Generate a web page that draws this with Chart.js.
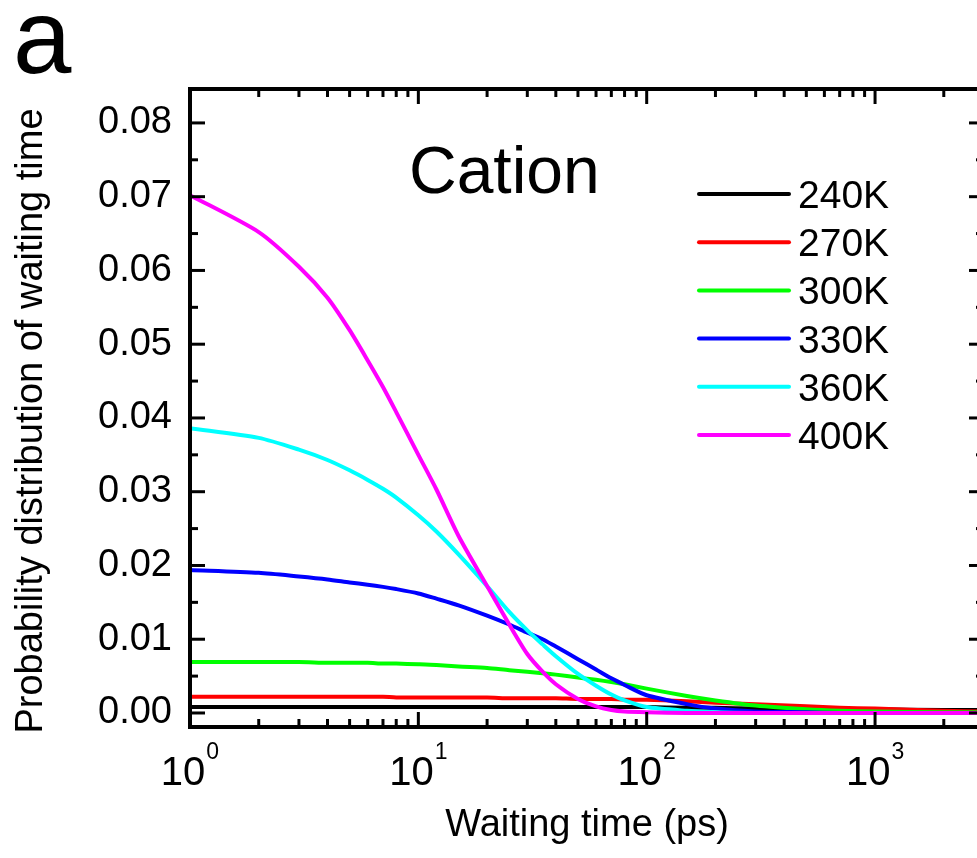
<!DOCTYPE html>
<html><head><meta charset="utf-8">
<script src="https://cdn.jsdelivr.net/npm/chart.js@4"></script>
<style>html,body{margin:0;padding:0;background:#fff;overflow:hidden}#wrap{width:1000px;height:858px}</style>
</head><body><div id="wrap"><canvas id="c" width="1000" height="858"></canvas></div>
<script>
// ---- data ----
const waitingTimes = [1,2,3,4,5,6,7,8,10,12,15,20,25,30,35,40,50,60,70,80,100,150,200,300,500,700,1000,2000,3000];
const seriesLabels = ['240K','270K','300K','330K','360K','400K'];
const seriesColors = ['#000000','#ff0000','#00ff00','#0000ff','#00ffff','#ff00ff'];
const series240K = [0.0008,0.0008,0.0008,0.0008,0.0008,0.0008,0.0008,0.0008,0.0008,0.0008,0.0008,0.0008,0.0008,0.0008,0.0008,0.0008,0.0008,0.0008,0.0008,0.0008,0.0008,0.0007,0.0007,0.0006,0.0006,0.0005,0.0005,0.0004,0.0004];
const series270K = [0.0022,0.0022,0.0022,0.0022,0.0022,0.0022,0.0022,0.0021,0.0021,0.0021,0.0021,0.0021,0.0020,0.0020,0.0020,0.0020,0.0019,0.0019,0.0019,0.0018,0.0018,0.0016,0.0014,0.0012,0.0009,0.0007,0.0006,0.0003,0.0002];
const series300K = [0.0069,0.0069,0.0069,0.0068,0.0068,0.0068,0.0067,0.0067,0.0066,0.0065,0.0063,0.0061,0.0058,0.0056,0.0054,0.0052,0.0048,0.0045,0.0042,0.0039,0.0033,0.0023,0.0017,0.0010,0.0005,0.0003,0.0002,0.0001,0.0001];
const series330K = [0.0194,0.0190,0.0185,0.0181,0.0177,0.0174,0.0171,0.0168,0.0162,0.0155,0.0146,0.0132,0.0120,0.0109,0.0100,0.0090,0.0073,0.0059,0.0047,0.0038,0.0024,0.0012,0.0006,0.0002,0.0001,0.0000,0.0000,0.0000,0.0000];
const series360K = [0.0386,0.0373,0.0357,0.0343,0.0329,0.0316,0.0304,0.0292,0.0268,0.0246,0.0215,0.0172,0.0137,0.0112,0.0093,0.0077,0.0053,0.0037,0.0025,0.0017,0.0008,0.0003,0.0001,0.0000,0.0000,0.0000,0.0000,0.0000,0.0000];
const series400K = [0.0702,0.0652,0.0605,0.0563,0.0519,0.0478,0.0442,0.0408,0.0350,0.0303,0.0240,0.0172,0.0120,0.0080,0.0056,0.0039,0.0019,0.0009,0.0004,0.0002,0.0001,0.0000,0.0000,0.0000,0.0000,0.0000,0.0000,0.0000,0.0000];
const allSeries = [series240K,series270K,series300K,series330K,series360K,series400K];
const yTickValues = [0,0.01,0.02,0.03,0.04,0.05,0.06,0.07,0.08];
const xTickExponents = [0,1,2,3];
const xAxisTitle = 'Waiting time (ps)';
const yAxisTitle = 'Probability distribution of waiting time';
const panelLabel = 'a';
const panelTitle = 'Cation';

const FONT = "'Liberation Sans', Arial, Helvetica, sans-serif";

const decor = {
  id: 'decor',
  afterDatasetsDraw(chart) {
    const {ctx, chartArea: a, scales: {x, y}} = chart;
    ctx.save();
    // legend
    chart.data.datasets.forEach((ds, i) => {
      const ly = 194 + i * 48.2;
      ctx.strokeStyle = ds.borderColor;
      ctx.lineWidth = 4;
      ctx.lineCap = 'round';
      ctx.beginPath(); ctx.moveTo(699, ly); ctx.lineTo(789, ly); ctx.stroke();
      ctx.fillStyle = '#000';
      ctx.font = '39px ' + FONT;
      ctx.textAlign = 'left';
      ctx.textBaseline = 'alphabetic';
      ctx.fillText(ds.label, 798, ly + 14);
    });
    // frame
    ctx.lineCap = 'butt';
    ctx.strokeStyle = '#000';
    ctx.lineWidth = 4;
    ctx.strokeRect(a.left, a.top, a.right - a.left, a.bottom - a.top);
    // ticks
    ctx.lineWidth = 3;
    const tick = (x1, y1, x2, y2) => { ctx.beginPath(); ctx.moveTo(x1, y1); ctx.lineTo(x2, y2); ctx.stroke(); };
    const MAJ = 15, MIN = 8;
    for (let k = 0; k <= 4; k++) {
      for (let m = 1; m <= 9; m++) {
        const v = m * Math.pow(10, k);
        if (v < x.min || v > x.max) continue;
        const px = x.getPixelForValue(v);
        const L = m === 1 ? MAJ : MIN;
        tick(px, a.bottom, px, a.bottom - L);
        tick(px, a.top, px, a.top + L);
      }
    }
    for (let i = 0; i <= 16; i++) {
      const v = i * 0.005;
      const py = y.getPixelForValue(v);
      const L = i % 2 === 0 ? MAJ : MIN;
      tick(a.left, py, a.left + L, py);
      tick(a.right, py, a.right - L, py);
    }
    // x tick labels with superscripts
    ctx.fillStyle = '#000';
    ctx.textBaseline = 'alphabetic';
    ctx.textAlign = 'left';
    xTickExponents.forEach(e => {
      const px = x.getPixelForValue(Math.pow(10, e));
      ctx.font = '40px ' + FONT;
      const w1 = ctx.measureText('10').width;
      ctx.font = '23px ' + FONT;
      const w2 = ctx.measureText(String(e)).width;
      const start = px - (w1 + w2 + 1) / 2;
      ctx.font = '40px ' + FONT;
      ctx.fillText('10', start, 785);
      ctx.font = '23px ' + FONT;
      ctx.fillText(String(e), start + w1 + 1, 759);
    });
    // y axis title
    ctx.save();
    ctx.translate(32, 421);
    ctx.rotate(-Math.PI / 2);
    ctx.font = '38px ' + FONT;
    ctx.textAlign = 'center';
    ctx.textBaseline = 'middle';
    ctx.fillText(yAxisTitle, 0, 0);
    ctx.restore();
    // panel label and title
    ctx.textAlign = 'left';
    ctx.textBaseline = 'alphabetic';
    ctx.font = '105px ' + FONT;
    ctx.fillText(panelLabel, 13, 73);
    ctx.font = '66px ' + FONT;
    ctx.fillText(panelTitle, 409, 193);
    ctx.restore();
  }
};

const datasets = seriesLabels.map((lab, i) => ({
  label: lab,
  data: waitingTimes.map((t, j) => ({x: t, y: allSeries[i][j]})),
  borderColor: seriesColors[i],
  backgroundColor: seriesColors[i],
  borderWidth: 4,
  pointRadius: 0,
  tension: 0.25,
  fill: false,
  order: seriesLabels.length - i
}));

new Chart(document.getElementById('c'), {
  type: 'line',
  data: {datasets},
  options: {
    responsive: false,
    animation: false,
    layout: {padding: {top: 89, right: 16, left: 0, bottom: 0}},
    plugins: {legend: {display: false}, tooltip: {enabled: false}},
    scales: {
      x: {
        type: 'logarithmic',
        min: 1, max: 3000,
        grid: {display: false, drawTicks: false},
        border: {display: false},
        ticks: {display: false},
        afterBuildTicks: s => { s.ticks = xTickExponents.map(e => ({value: Math.pow(10, e), major: true})); },
        afterFit: s => { s.height = 131; },
        title: {display: true, text: xAxisTitle, color: '#000', font: {family: FONT, size: 38}, padding: {top: 0, bottom: 10}}
      },
      y: {
        type: 'linear',
        min: -0.0019, max: 0.0846,
        grid: {display: false, drawTicks: false},
        border: {display: false},
        ticks: {color: '#000', padding: 18, font: {family: FONT, size: 38}, callback: v => Number(v).toFixed(2)},
        afterBuildTicks: s => { s.ticks = yTickValues.map(v => ({value: v})); },
        afterFit: s => { s.width = 190; },
        title: {display: false, text: yAxisTitle}
      }
    }
  },
  plugins: [decor]
});
</script>
</body></html>
